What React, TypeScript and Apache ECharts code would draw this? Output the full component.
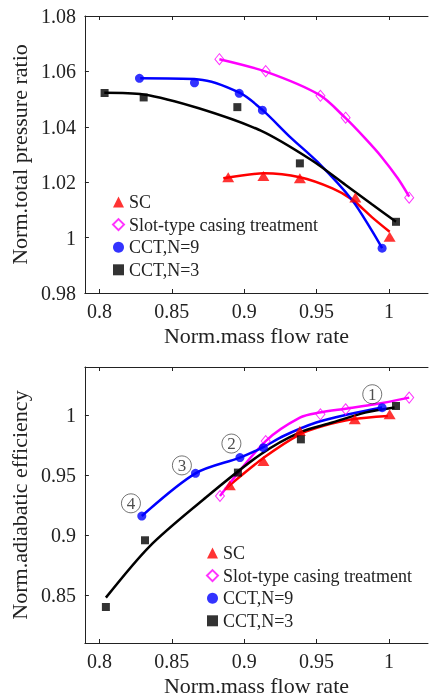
import React, { useEffect, useRef } from "react";
import * as echarts from "echarts";

// ---------- data ----------
const X_TICKS = [0.8, 0.85, 0.9, 0.95, 1];
const PR_Y_TICKS = [0.98, 1, 1.02, 1.04, 1.06, 1.08];
const EF_Y_TICKS = [0.85, 0.9, 0.95, 1];

const LEGEND_NAMES = ["SC", "Slot-type casing treatment", "CCT,N=9", "CCT,N=3"];

// Norm. total pressure ratio – measured markers
const SC_PR = [[0.889, 1.0218], [0.9133, 1.0222], [0.9385, 1.0214], [0.9768, 1.0145], [1.0005, 1.0003]];
const SLOT_PR = [[0.8829, 1.0644], [0.9149, 1.0601], [0.9527, 1.0512], [0.9701, 1.0433], [1.014, 1.0144]];
const CCT9_PR = [[0.8277, 1.0575], [0.8657, 1.0559], [0.8966, 1.0521], [0.9126, 1.046], [0.9953, 0.9962]];
const CCT3_PR = [[0.8036, 1.0522], [0.8306, 1.0506], [0.8953, 1.0471], [0.9385, 1.0268], [1.0049, 1.0057]];

// Norm. total pressure ratio – fitted curves
const SC_PR_FIT = [[0.8856, 1.0214], [0.9137, 1.0232], [0.9385, 1.0218], [0.961, 1.0178], [0.9745, 1.0138], [0.988, 1.0075], [1.0005, 1.0021]];
const SLOT_PR_FIT = [[0.8829, 1.0644], [0.9149, 1.0599], [0.952, 1.0515], [0.9701, 1.0431], [0.9836, 1.0358], [0.9948, 1.0292], [1.0061, 1.0214], [1.014, 1.0148]];
const CCT9_PR_FIT = [[0.8282, 1.0575], [0.8687, 1.0571], [0.8968, 1.0523], [0.9126, 1.0461], [0.9318, 1.0363], [0.9507, 1.0273], [0.9745, 1.0136], [0.988, 1.0027], [0.9953, 0.9962]];
const CCT3_PR_FIT = [[0.8034, 1.0523], [0.8304, 1.0517], [0.8687, 1.0467], [0.9115, 1.0386], [0.9464, 1.028], [0.9701, 1.019], [0.988, 1.0121], [1.0049, 1.0057]];

// Norm. adiabatic efficiency – measured markers
const SC_EF = [[0.8901, 0.9414], [0.9133, 0.9617], [0.9385, 0.9867], [0.9764, 0.9964], [1.0005, 1.0006]];
const SLOT_EF = [[0.8833, 0.9325], [0.9149, 0.9783], [0.9527, 1.0006], [0.9701, 1.0048], [1.014, 1.0145]];
const CCT9_EF = [[0.8293, 0.9158], [0.8664, 0.9514], [0.8971, 0.9645], [0.9133, 0.9728], [0.9953, 1.0061]];
const CCT3_EF = [[0.8045, 0.84], [0.8315, 0.8956], [0.8957, 0.952], [0.9392, 0.9797], [1.0049, 1.0075]];

// Norm. adiabatic efficiency – fitted curves
const SC_EF_FIT = [[0.8867, 0.9381], [0.9137, 0.9645], [0.9385, 0.9839], [0.9543, 0.9908], [0.9745, 0.9964], [0.9993, 0.9992]];
const SLOT_EF_FIT = [[0.8833, 0.9325], [0.9149, 0.9783], [0.9385, 0.9978], [0.952, 1.002], [0.9701, 1.0053], [0.9903, 1.0089], [1.014, 1.0145]];
const CCT9_EF_FIT = [[0.8293, 0.9158], [0.8664, 0.9514], [0.8971, 0.9645], [0.9126, 0.9728], [0.9272, 0.9825], [0.9498, 0.9937], [0.9723, 1.0006], [0.9953, 1.0062]];
const CCT3_EF_FIT = [[0.8045, 0.8478], [0.8349, 0.8908], [0.8721, 0.9298], [0.9115, 0.9673], [0.9385, 0.9856], [0.961, 0.9937], [0.9836, 1.002], [1.0039, 1.0062]];

// Operating point annotations (circled numbers)
const ANNOT_LABELS = ["1", "2", "3", "4"];
const ANNOT_POS = [[0.9885, 1.0173], [0.8912, 0.9762], [0.857, 0.958], [0.8218, 0.9264]];

// ---------- styling ----------
const FONT = "Liberation Serif";
const TXT = "#222";
const RED = "#ff0000";
const MAG = "#ff00ff";
const BLUE = "#0000ff";
const BLACK = "#000000";
const X_MIN = 0.79;
const X_MAX = 1.027;

// show a label only where the value is a multiple of step
const stepFormatter = (step: number) => (v: number) => {
  const r = v / step;
  return Math.abs(r - Math.round(r)) < 1e-6 ? String(+v.toFixed(3)) : "";
};

const markerStyles = [
  { name: LEGEND_NAMES[0], symbol: "triangle", size: [12, 10], itemStyle: { color: RED } },
  { name: LEGEND_NAMES[1], symbol: "diamond", size: [9, 11], itemStyle: { color: "rgba(255,255,255,0)", borderColor: MAG, borderWidth: 1 } },
  { name: LEGEND_NAMES[2], symbol: "circle", size: 9, itemStyle: { color: BLUE } },
  { name: LEGEND_NAMES[3], symbol: "rect", size: 8, itemStyle: { color: BLACK } },
];
const lineColors = [RED, MAG, BLUE, BLACK];

function buildSeries(gridIdx: number, fits: number[][][], marks: number[][][]) {
  const out: any[] = [];
  fits.forEach((d, i) => {
    out.push({
      type: "line",
      name: "fit" + gridIdx + "_" + i,
      xAxisIndex: gridIdx * 2,
      yAxisIndex: gridIdx,
      data: d,
      smooth: 0.3,
      clip: false,
      showSymbol: false,
      symbol: "none",
      silent: true,
      lineStyle: { color: lineColors[i], width: 2.5 },
      z: 2,
    });
  });
  marks.forEach((d, i) => {
    const m = markerStyles[i];
    out.push({
      type: "scatter",
      name: m.name,
      xAxisIndex: gridIdx * 2,
      yAxisIndex: gridIdx,
      data: d,
      symbol: m.symbol,
      symbolSize: m.size,
      itemStyle: m.itemStyle,
      z: 3,
    });
  });
  return out;
}

function xAxes(gridIndex: number) {
  const common = {
    type: "value",
    gridIndex,
    min: X_MIN,
    max: X_MAX,
    interval: 0.01,
    splitLine: { show: false },
    axisLine: { show: true, onZero: false, lineStyle: { color: "#222", width: 1 } },
    axisTick: { show: true, inside: true, length: 4, customValues: X_TICKS, lineStyle: { color: "#222" } },
  };
  return [
    {
      ...common,
      position: "bottom",
      name: "Norm.mass flow rate",
      nameLocation: "middle",
      nameGap: 31,
      nameTextStyle: { fontFamily: FONT, fontSize: 22, color: TXT },
      axisLabel: { show: true, formatter: stepFormatter(0.05), fontFamily: FONT, fontSize: 20, color: TXT, margin: 8 },
    },
    {
      ...common,
      position: "top",
      axisLabel: { show: false },
    },
  ];
}

function yAxis(gridIndex: number, name: string, min: number, max: number, interval: number, step: number, ticks: number[]) {
  return {
    type: "value",
    gridIndex,
    min,
    max,
    interval,
    position: "left",
    name,
    nameLocation: "middle",
    nameGap: 48,
    nameTextStyle: { fontFamily: FONT, fontSize: 22, color: TXT },
    splitLine: { show: false },
    axisLine: { show: true, onZero: false, lineStyle: { color: "#222", width: 1 } },
    axisTick: { show: true, inside: true, length: 4, customValues: ticks, lineStyle: { color: "#222" } },
    axisLabel: { show: true, formatter: stepFormatter(step), fontFamily: FONT, fontSize: 20, color: TXT, margin: 9 },
  };
}

function legend(left: number, top: number, gap: number) {
  return {
    orient: "vertical",
    left,
    top,
    itemWidth: 11,
    itemHeight: 11,
    itemGap: 4.6,
    itemTextGap: gap,
    selectedMode: false,
    data: LEGEND_NAMES,
    textStyle: { fontFamily: FONT, fontSize: 18, color: TXT, lineHeight: 18 },
  };
}

export default function App() {
  const ref = useRef<HTMLDivElement>(null);
  useEffect(() => {
    if (!ref.current) return;
    const chart = echarts.init(ref.current, null, { renderer: "svg" });
    const option: any = {
      animation: false,
      grid: [
        { left: 80, right: 0, top: 16, height: 277 },
        { left: 80, right: 0, top: 367, height: 276 },
      ],
      xAxis: [...xAxes(0), ...xAxes(1)],
      yAxis: [
        yAxis(0, "Norm.total pressure ratio", 0.98, 1.08, 0.02, 0.02, PR_Y_TICKS),
        yAxis(1, "Norm.adiabatic efficiency", 0.81, 1.04, 0.01, 0.05, EF_Y_TICKS),
      ],
      legend: [legend(107, 188, 14), legend(201, 539, 13)],
      series: [
        ...buildSeries(0, [SC_PR_FIT, SLOT_PR_FIT, CCT9_PR_FIT, CCT3_PR_FIT], [SC_PR, SLOT_PR, CCT9_PR, CCT3_PR]),
        ...buildSeries(1, [SC_EF_FIT, SLOT_EF_FIT, CCT9_EF_FIT, CCT3_EF_FIT], [SC_EF, SLOT_EF, CCT9_EF, CCT3_EF]),
        {
          type: "scatter",
          name: "annotations",
          xAxisIndex: 2,
          yAxisIndex: 1,
          symbol: "circle",
          symbolSize: 19,
          itemStyle: { color: "rgba(255,255,255,0)", borderColor: "#222", borderWidth: 0.8 },
          silent: true,
          z: 5,
          data: ANNOT_POS.map((p, i) => ({ value: p, label: { formatter: ANNOT_LABELS[i] } })),
          label: {
            show: true,
            position: "inside",
            fontFamily: FONT,
            fontSize: 17,
            color: TXT,
          },
        },
      ],
    };
    chart.setOption(option);
    return () => chart.dispose();
  }, []);
  return (
    <div
      ref={ref}
      style={{ position: "fixed", left: 0, top: 0, width: 431, height: 698, fontFamily: "Liberation Serif, serif" }}
    />
  );
}
